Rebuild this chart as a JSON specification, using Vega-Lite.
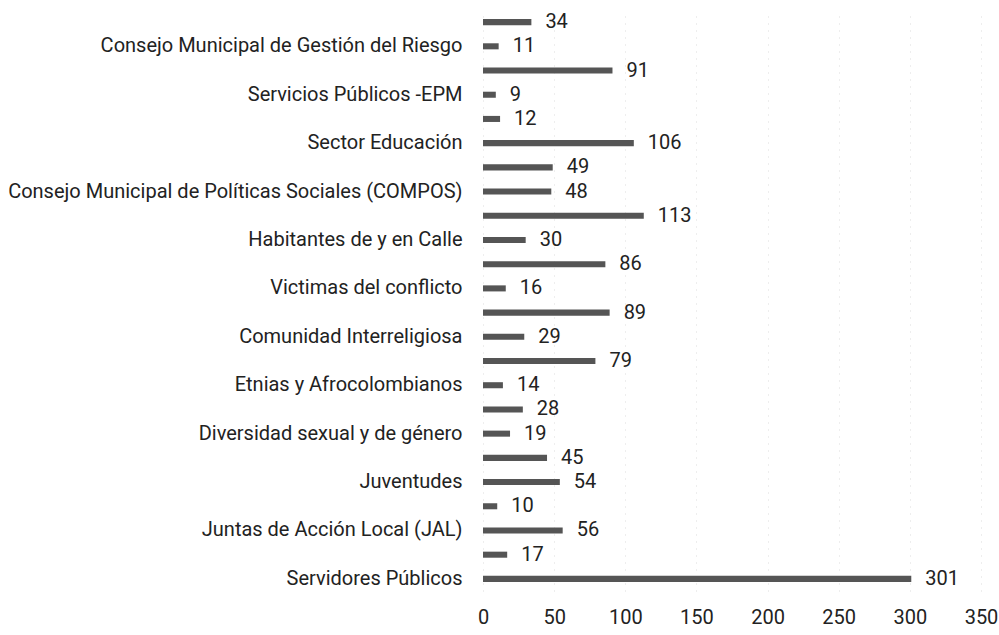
{
  "$schema": "https://vega.github.io/schema/vega-lite/v6.json",
  "autosize": "none",
  "padding": {"left": 483, "top": 10, "right": 18, "bottom": 44},
  "width": 498,
  "height": 581,
  "background": "white",
  "config": {
    "view": {"stroke": null},
    "font": "Roboto",
    "axis": {"labelFont": "Roboto", "labelColor": "#222222"}
  },
  "data": {
    "values": [
      {"order": 1, "categoria": "_a", "valor": 34},
      {"order": 2, "categoria": "Consejo Municipal de Gestión del Riesgo", "valor": 11},
      {"order": 3, "categoria": "_b", "valor": 91},
      {"order": 4, "categoria": "Servicios Públicos -EPM", "valor": 9},
      {"order": 5, "categoria": "_c", "valor": 12},
      {"order": 6, "categoria": "Sector Educación", "valor": 106},
      {"order": 7, "categoria": "_d", "valor": 49},
      {"order": 8, "categoria": "Consejo Municipal de Políticas Sociales (COMPOS)", "valor": 48},
      {"order": 9, "categoria": "_e", "valor": 113},
      {"order": 10, "categoria": "Habitantes de y en Calle", "valor": 30},
      {"order": 11, "categoria": "_f", "valor": 86},
      {"order": 12, "categoria": "Victimas del conflicto ", "valor": 16},
      {"order": 13, "categoria": "_g", "valor": 89},
      {"order": 14, "categoria": "Comunidad Interreligiosa", "valor": 29},
      {"order": 15, "categoria": "_h", "valor": 79},
      {"order": 16, "categoria": "Etnias y Afrocolombianos", "valor": 14},
      {"order": 17, "categoria": "_i", "valor": 28},
      {"order": 18, "categoria": "Diversidad sexual y de género", "valor": 19},
      {"order": 19, "categoria": "_j", "valor": 45},
      {"order": 20, "categoria": "Juventudes", "valor": 54},
      {"order": 21, "categoria": "_k", "valor": 10},
      {"order": 22, "categoria": "Juntas de Acción Local (JAL)", "valor": 56},
      {"order": 23, "categoria": "_l", "valor": 17},
      {"order": 24, "categoria": "Servidores Públicos", "valor": 301}
    ]
  },
  "encoding": {
    "y": {
      "field": "categoria",
      "type": "nominal",
      "sort": {"field": "order", "order": "ascending"},
      "scale": {"paddingInner": 0.75, "paddingOuter": 0.375},
      "axis": {
        "title": null,
        "domain": false,
        "ticks": false,
        "labelPadding": 21,
        "labelFontSize": 20,
        "labelLimit": 600,
        "labelExpr": "indexof(datum.label, '_') == 0 ? '' : datum.label"
      }
    },
    "x": {
      "field": "valor",
      "type": "quantitative",
      "scale": {"domain": [0, 350], "nice": false},
      "axis": {
        "title": null,
        "values": [0, 50, 100, 150, 200, 250, 300, 350],
        "domain": false,
        "ticks": false,
        "labelFlush": false,
        "labelFontSize": 20,
        "labelPadding": 16,
        "grid": true,
        "gridColor": "#bbbbbb",
        "gridDash": [1, 6],
        "gridOpacity": 0.5
      }
    }
  },
  "layer": [
    {"mark": {"type": "bar", "color": "#555555"}},
    {
      "mark": {"type": "text", "align": "left", "baseline": "middle", "dx": 14, "fontSize": 20, "color": "#222222", "font": "Roboto"},
      "encoding": {"text": {"field": "valor", "type": "quantitative"}}
    }
  ]
}
